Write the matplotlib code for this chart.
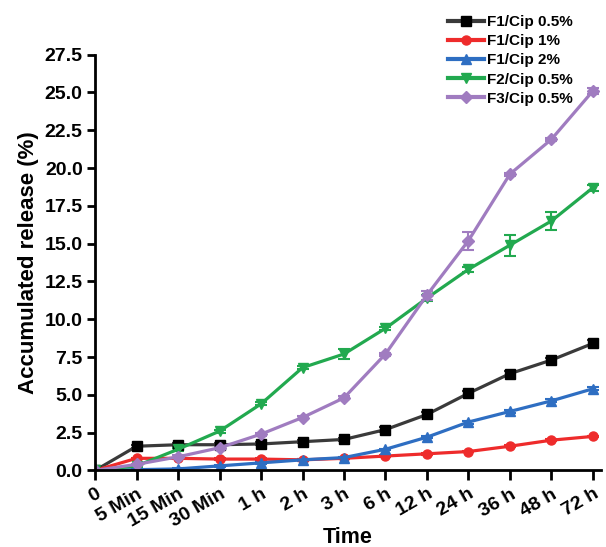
import matplotlib
matplotlib.use('Agg')
import matplotlib.pyplot as plt

plt.rcParams['font.family'] = ['Liberation Sans', 'DejaVu Sans']
plt.rcParams['font.weight'] = 'bold'

times = ['0', '5 Min', '15 Min', '30 Min', '1 h', '2 h', '3 h', '6 h',
         '12 h', '24 h', '36 h', '48 h', '72 h']

f1_05 = [0, 1.6, 1.7, 1.7, 1.75, 1.9, 2.05, 2.7, 3.7, 5.1, 6.4, 7.3, 8.4]
f1_1 = [0, 0.8, 0.8, 0.75, 0.75, 0.7, 0.8, 0.95, 1.1, 1.25, 1.6, 2.0, 2.25]
f1_2 = [0, 0.05, 0.1, 0.3, 0.5, 0.7, 0.85, 1.4, 2.2, 3.2, 3.9, 4.6, 5.4]
f2_05 = [0, 0.3, 1.4, 2.6, 4.4, 6.8, 7.7, 9.4, 11.4, 13.3, 14.9, 16.5, 18.7]
f3_05 = [0, 0.4, 0.9, 1.5, 2.4, 3.5, 4.8, 7.7, 11.6, 15.2, 19.6, 21.9, 25.1]

err_f1_05 = [0, 0.1, 0.1, 0.1, 0.1, 0.1, 0.1, 0.15, 0.15, 0.15, 0.15, 0.15, 0.2]
err_f1_1 = [0, 0.05, 0.05, 0.05, 0.05, 0.05, 0.05, 0.05, 0.05, 0.05, 0.05, 0.05, 0.05]
err_f1_2 = [0, 0.05, 0.05, 0.05, 0.05, 0.05, 0.05, 0.05, 0.05, 0.1, 0.1, 0.1, 0.1]
err_f2_05 = [0, 0.05, 0.1, 0.1, 0.1, 0.1, 0.35, 0.1, 0.2, 0.15, 0.7, 0.6, 0.2]
err_f3_05 = [0, 0.05, 0.1, 0.1, 0.1, 0.1, 0.1, 0.1, 0.3, 0.6, 0.1, 0.1, 0.2]

series = [
    ('F1/Cip 0.5%', f1_05, err_f1_05, '#3a3a3a', 's', '#000000'),
    ('F1/Cip 1%', f1_1, err_f1_1, '#ee2b2b', 'o', '#ee2b2b'),
    ('F1/Cip 2%', f1_2, err_f1_2, '#2e6ec2', '^', '#2e6ec2'),
    ('F2/Cip 0.5%', f2_05, err_f2_05, '#22a94f', 'v', '#22a94f'),
    ('F3/Cip 0.5%', f3_05, err_f3_05, '#a07cc0', 'D', '#a07cc0'),
]

fig = plt.figure(figsize=(6.06, 5.47), dpi=100)
ax = fig.add_axes([0.157, 0.14, 0.835, 0.76])

x = list(range(len(times)))
for name, vals, err, col, mk, mcol in series:
    ax.errorbar(x, vals, yerr=err, color=col, marker=mk, markersize=6.5 if mk != 'D' else 6,
                markerfacecolor=mcol, markeredgecolor=mcol, linewidth=2.3,
                capsize=4, elinewidth=1.5, capthick=1.5, label=name)

ax.set_xlim(0, 12.2)
ax.set_ylim(0, 27.5)
ax.set_yticks([0, 2.5, 5, 7.5, 10, 12.5, 15, 17.5, 20, 22.5, 25, 27.5])
ax.set_yticklabels(['0.0', '2.5', '5.0', '7.5', '10.0', '12.5', '15.0', '17.5',
                    '20.0', '22.5', '25.0', '27.5'])
ax.set_xticks(x)
ax.set_xticklabels(times, rotation=30, ha='right', rotation_mode='anchor')

for s in ['top', 'right']:
    ax.spines[s].set_visible(False)
for s in ['left', 'bottom']:
    ax.spines[s].set_linewidth(2)
ax.tick_params(axis='y', width=2, length=6, labelsize=14, pad=3)
ax.tick_params(axis='x', width=2, length=7, labelsize=14, pad=4)
for lab in ax.get_xticklabels() + ax.get_yticklabels():
    lab.set_fontweight('bold')

ax.set_ylabel('Accumulated release (%)', fontsize=16, fontweight='bold', labelpad=4)
ax.set_xlabel('Time', fontsize=15.5, fontweight='bold')
ax.xaxis.set_label_coords(0.5, -0.135)

handles, labels = ax.get_legend_handles_labels()
handles = [h[0] for h in handles]
leg = fig.legend(handles, labels, loc='upper left', bbox_to_anchor=(0.716, 0.997),
                 frameon=False, handlelength=2.4, labelspacing=0.33,
                 handletextpad=0.2, prop={'weight': 'bold', 'size': 11})
for h in leg.legend_handles:
    h.set_linewidth(3)

fig.savefig('out.png', dpi=100)
